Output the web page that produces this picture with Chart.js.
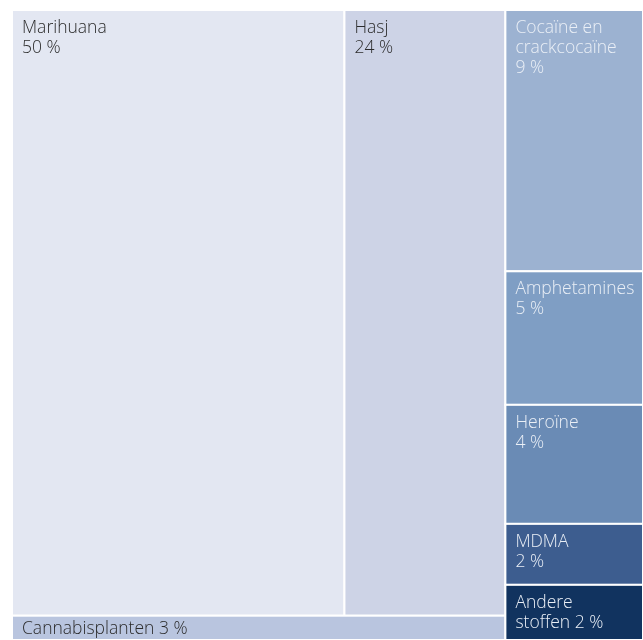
<!DOCTYPE html>
<html>
<head>
<meta charset="utf-8">
<script src="https://cdn.jsdelivr.net/npm/chart.js@4/dist/chart.umd.min.js"></script>
<style>
    html, body { margin: 0; background: #fff; }
    #wrap { width: 643px; height: 640px; }
</style>
</head>
<body>
<div id="wrap"><canvas id="treemapChart"></canvas></div>
<script>
// share of seizures per substance (percent); "\n" marks a forced line break in the name
const names = ['Marihuana', 'Hasj', 'Cannabisplanten', 'Cocaïne en\ncrackcocaïne', 'Amphetamines', 'Heroïne', 'MDMA', 'Andere\nstoffen'];
const shares = [50.4, 24.4, 3.0, 9.0, 4.6, 4.1, 2.1, 1.9];
const fills = ['#e3e7f2', '#cdd3e6', '#b9c5df', '#9cb2d1', '#7f9ec4', '#6a8bb5', '#3d5d8f', '#11335f'];

// nesting of the cells: 'h' = side by side, 'v' = stacked
const tree = { dir: 'h', kids: [
    { dir: 'v', kids: [{ dir: 'h', kids: [0, 1] }, 2] },
    { dir: 'v', kids: [3, 4, 5, 6, 7] },
] };

function sumOf(node) {
    return typeof node === 'number' ? shares[node] : node.kids.reduce((s, k) => s + sumOf(k), 0);
}

// slice-and-dice into value space (x and y both 0..100)
function place(node, x0, y0, x1, y1, out) {
    if (typeof node === 'number') {
        out[node] = { x0, y0, x1, y1 };
        return out;
    }
    const tot = sumOf(node);
    let pos = node.dir === 'h' ? x0 : y0;
    node.kids.forEach(k => {
        const span = (node.dir === 'h' ? x1 - x0 : y1 - y0) * sumOf(k) / tot;
        if (node.dir === 'h') place(k, pos, y0, pos + span, y1, out);
        else place(k, x0, pos, x1, pos + span, out);
        pos += span;
    });
    return out;
}

const cells = place(tree, 0, 0, 100, 100, []);

function isDark(hex) {
    const n = parseInt(hex.slice(1), 16);
    const r = n >> 16, g = (n >> 8) & 255, b = n & 255;
    return 0.299 * r + 0.587 * g + 0.114 * b < 190;
}

function wrap(ctx, text, maxW) {
    const lines = [];
    text.split('\n').forEach(part => {
        let line = '';
        part.split(' ').forEach(w => {
            const test = line ? line + ' ' + w : w;
            if (line && ctx.measureText(test).width > maxW) {
                lines.push(line);
                line = w;
            } else {
                line = test;
            }
        });
        lines.push(line);
    });
    return lines;
}

const cellPlugin = {
    id: 'cells',
    afterDatasetsDraw(chart) {
        const { ctx, scales: { x, y } } = chart;
        const lh = 20, padX = 10, top = 23, cap = 12;
        ctx.save();
        cells.forEach((c, i) => {
            const px0 = x.getPixelForValue(c.x0), px1 = x.getPixelForValue(c.x1);
            const py0 = y.getPixelForValue(c.y0), py1 = y.getPixelForValue(c.y1);
            const w = px1 - px0, h = py1 - py0;
            ctx.fillStyle = fills[i];
            ctx.fillRect(px0, py0, w, h);
            ctx.strokeStyle = '#ffffff';
            ctx.lineWidth = 2;
            ctx.strokeRect(px0, py0, w, h);

            ctx.font = '300 17.5px "Open Sans", sans-serif';
            const pct = Math.round(shares[i]) + ' %';
            let lines = wrap(ctx, names[i], w - 2 * padX);
            if ((lines.length + 1) * lh + 10 > h) {
                lines[lines.length - 1] += ' ' + pct;
            } else {
                lines.push(pct);
            }
            const first = py0 + Math.min(top, (h - (lines.length - 1) * lh + cap) / 2);
            ctx.fillStyle = isDark(fills[i]) ? '#eaeff6' : '#2b2b2b';
            ctx.textBaseline = 'alphabetic';
            lines.forEach((ln, k) => ctx.fillText(ln, px0 + padX, first + k * lh));
        });
        ctx.restore();
    },
};

new Chart(document.getElementById('treemapChart'), {
    type: 'scatter',
    data: { datasets: [{ data: [], showLine: false }] },
    options: {
        responsive: true,
        maintainAspectRatio: false,
        animation: false,
        layout: { padding: { left: 12, top: 10, right: 0, bottom: 0 } },
        scales: {
            x: { type: 'linear', min: 0, max: 100, display: false },
            y: { type: 'linear', min: 0, max: 100, reverse: true, display: false },
        },
        plugins: { legend: { display: false }, tooltip: { enabled: false } },
    },
    plugins: [cellPlugin],
});
</script>
</body>
</html>
